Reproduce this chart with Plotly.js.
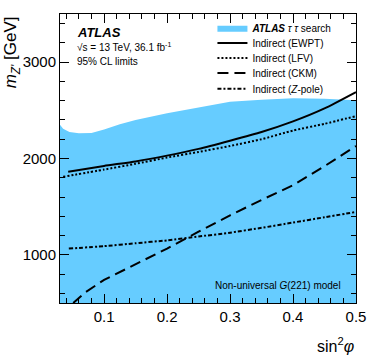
<!DOCTYPE html>
<html>
<head>
<meta charset="utf-8">
<script src="https://cdn.plot.ly/plotly-3.0.1.min.js"></script>
<style>
  body { margin: 0; background: #fff; }
  #chart { width: 374px; height: 361px; }
</style>
</head>
<body>
<div id="chart"></div>
<script>
// observed limit from the tau-tau search (upper edge of the excluded band)
let search_x = [0.03, 0.035, 0.045, 0.06, 0.08, 0.1, 0.125, 0.15, 0.2, 0.25, 0.3, 0.35, 0.4, 0.45, 0.5];
let search_m = [2350, 2310, 2275, 2262, 2265, 2300, 2355, 2400, 2470, 2530, 2590, 2610, 2625, 2620, 2605];

// indirect limits
let ewpt_x = [0.043, 0.1, 0.15, 0.2, 0.25, 0.3, 0.35, 0.4, 0.45, 0.5];
let ewpt_m = [1863, 1923, 1970, 2030, 2100, 2185, 2275, 2385, 2520, 2690];

let lfv_x = [0.035, 0.1, 0.15, 0.2, 0.25, 0.3, 0.35, 0.4, 0.45, 0.5];
let lfv_m = [1810, 1885, 1945, 2010, 2068, 2130, 2200, 2290, 2360, 2440];

let ckm_x = [0.051, 0.07, 0.1, 0.15, 0.2, 0.25, 0.3, 0.35, 0.4, 0.45, 0.5];
let ckm_m = [500, 610, 740, 905, 1065, 1240, 1410, 1570, 1722, 1920, 2130];

let zpole_x = [0.044, 0.1, 0.15, 0.2, 0.25, 0.3, 0.35, 0.4, 0.45, 0.5];
let zpole_m = [1065, 1090, 1120, 1150, 1190, 1230, 1280, 1335, 1390, 1445];

let font = 'Liberation Sans, Arial, sans-serif';

let traces = [
    {
        name: '<b><i>ATLAS</i></b> <i>τ τ</i> search',
        x: search_x, y: search_m,
        mode: 'lines', type: 'scatter',
        fill: 'tozeroy', fillcolor: '#66CCFF',
        line: {width: 0, color: '#66CCFF'},
        legend: 'legend'
    },
    {
        name: 'Indirect (EWPT)',
        x: ewpt_x, y: ewpt_m,
        mode: 'lines', type: 'scatter',
        line: {color: 'black', width: 2, shape: 'spline', smoothing: 0.5},
        legend: 'legend2'
    },
    {
        name: 'Indirect (LFV)',
        x: lfv_x, y: lfv_m,
        mode: 'lines', type: 'scatter',
        line: {color: 'black', width: 2, dash: '2px,2px', shape: 'spline', smoothing: 0.5},
        legend: 'legend3'
    },
    {
        name: 'Indirect (CKM)',
        x: ckm_x, y: ckm_m,
        mode: 'lines', type: 'scatter',
        line: {color: 'black', width: 2, dash: '11px,6px'},
        legend: 'legend4'
    },
    {
        name: 'Indirect (<i>Z</i>-pole)',
        x: zpole_x, y: zpole_m,
        mode: 'lines', type: 'scatter',
        line: {color: 'black', width: 2, dash: '4px,2px,2px,2px', shape: 'spline', smoothing: 0.5},
        legend: 'legend5'
    }
];

function legendAt(y) {
    return {
        x: 0.515, y: y, xanchor: 'left', yanchor: 'middle',
        bgcolor: 'rgba(0,0,0,0)',
        font: {size: 10}
    };
}

let layout = {
    width: 374, height: 361,
    margin: {l: 60, r: 18, t: 14, b: 58},
    paper_bgcolor: 'white',
    plot_bgcolor: 'white',
    font: {family: font, color: 'black', size: 15},
    showlegend: true,
    legend: legendAt(0.952),
    legend2: legendAt(0.900),
    legend3: legendAt(0.848),
    legend4: legendAt(0.796),
    legend5: legendAt(0.741),
    xaxis: {
        range: [0.03, 0.5],
        tickvals: [0.1, 0.2, 0.3, 0.4, 0.5],
        ticktext: ['0.1', '0.2', '0.3', '0.4', '0.5'],
        ticks: 'inside', ticklen: 9, tickcolor: 'black',
        minor: {dtick: 0.02, tick0: 0, ticks: 'inside', ticklen: 5, tickcolor: 'black'},
        showline: true, linecolor: 'black', linewidth: 1, mirror: 'allticks',
        showgrid: false, zeroline: false,
        tickfont: {size: 15}
    },
    yaxis: {
        range: [500, 3500],
        tickvals: [1000, 2000, 3000],
        ticks: 'inside', ticklen: 9, tickcolor: 'black',
        minor: {dtick: 200, tick0: 0, ticks: 'inside', ticklen: 5, tickcolor: 'black'},
        showline: true, linecolor: 'black', linewidth: 1, mirror: 'allticks',
        showgrid: false, zeroline: false,
        tickfont: {size: 15}
    },
    annotations: [
        {text: '<b><i>ATLAS</i></b>', xref: 'paper', yref: 'paper', x: 0.05, y: 0.935,
         xanchor: 'left', yanchor: 'middle', showarrow: false, font: {size: 13}},
        {text: '√s = 13 TeV, 36.1 fb<sup>-1</sup>', xref: 'paper', yref: 'paper', x: 0.05, y: 0.885,
         xanchor: 'left', yanchor: 'middle', showarrow: false, font: {size: 10}},
        {text: '95% CL limits', xref: 'paper', yref: 'paper', x: 0.05, y: 0.834,
         xanchor: 'left', yanchor: 'middle', showarrow: false, font: {size: 10}},
        {text: 'Non-universal <i>G</i>(221) model', xref: 'paper', yref: 'paper', x: 0.955, y: 0.062,
         xanchor: 'right', yanchor: 'middle', showarrow: false, font: {size: 10}},
        {text: 'sin<sup>2</sup><i>φ</i>', xref: 'paper', yref: 'paper', x: 1.0, y: -0.145,
         xanchor: 'right', yanchor: 'middle', showarrow: false, font: {size: 16}},
        {text: '<i>m</i><sub><i>Z\'</i></sub> [GeV]', xref: 'paper', yref: 'paper', x: -0.205, y: 1.0,
         xanchor: 'left', yanchor: 'top', textangle: -90, showarrow: false, font: {size: 17}}
    ]
};

Plotly.newPlot('chart', traces, layout, {displayModeBar: false, staticPlot: true});
</script>
</body>
</html>
